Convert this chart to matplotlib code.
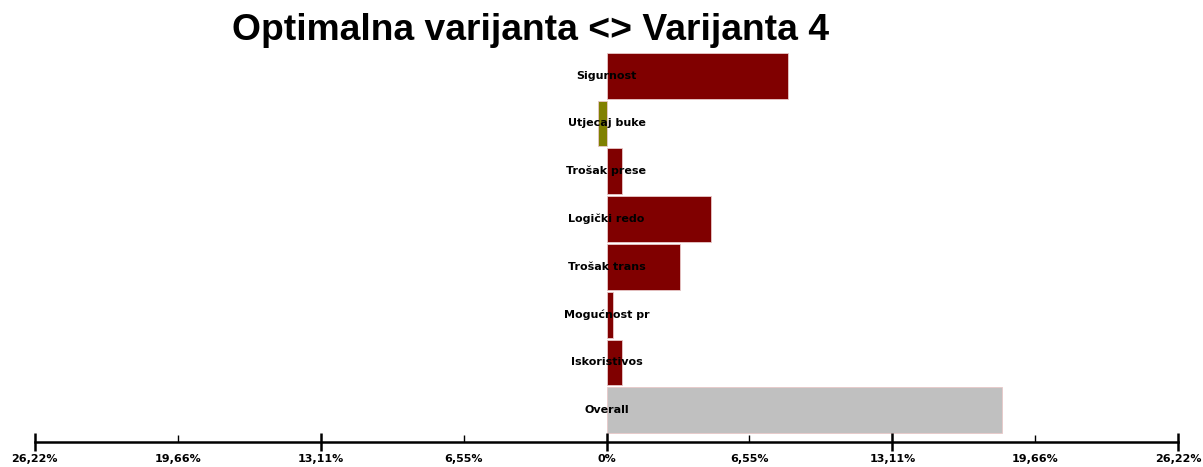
import matplotlib
matplotlib.use('Agg')
import matplotlib.pyplot as plt

# criteria, top to bottom, and their contribution (%)
categories = ['Sigurnost', 'Utjecaj buke', 'Trošak prese', 'Logički redo',
              'Trošak trans', 'Mogućnost pr', 'Iskoristivos', 'Overall']
values = [8.32, -0.40, 0.69, 4.77, 3.39, 0.31, 0.73, 18.13]

major_ticks = [-26.22, -13.11, 0, 13.11, 26.22]
minor_ticks = [-19.66, -6.55, 6.55, 19.66]
xmax = 26.22

title = 'Optimalna varijanta <> Varijanta 4'

W, H = 1203, 467
fig = plt.figure(figsize=(W / 100, H / 100), dpi=100)

# axes placed in pixel terms: x from 34.7 to 1178.3, y from 52.7 (top) to 442 (axis line)
left_px, right_px = 34.7, 1178.3
top_px, bot_px = 52.7, 442.0
ax = fig.add_axes([left_px / W, (H - bot_px) / H,
                   (right_px - left_px) / W, (bot_px - top_px) / H])

n = len(categories)
slot = 47.8  # pixels per bar slot
ypos = [n - 1 - i for i in range(n)]
colors = []
for c, v in zip(categories, values):
    if c == 'Overall':
        colors.append('#c0c0c0')
    elif v < 0:
        colors.append('#808000')
    else:
        colors.append('#800000')

ax.barh(ypos, values, height=0.96, color=colors, edgecolor='#e8c8c8',
        linewidth=0.6)

for y, c in zip(ypos, categories):
    ax.text(0, y, c, ha='center', va='center', fontsize=8,
            fontweight='bold', color='black')

ax.set_xlim(-xmax, xmax)
top_data = (n - 1) + 0.48
span = (bot_px - top_px) / slot
ax.set_ylim(top_data - span, top_data)

for s in ['top', 'left', 'right']:
    ax.spines[s].set_visible(False)
ax.spines['bottom'].set_linewidth(1.8)
ax.set_yticks([])

ax.set_xticks(major_ticks)
ax.set_xticklabels([('%.2f' % abs(t)).replace('.', ',') + '%' if t != 0 else '0%'
                    for t in major_ticks])
ax.set_xticks(minor_ticks, minor=True)
ax.set_xticklabels([('%.2f' % abs(t)).replace('.', ',') + '%' for t in minor_ticks],
                   minor=True)
ax.tick_params(axis='x', which='major', direction='inout', length=13, width=1.8,
               pad=2, labelsize=8)
ax.tick_params(axis='x', which='minor', direction='in', length=5, width=1,
               pad=8.5, labelsize=8)
for lab in ax.get_xticklabels() + ax.get_xticklabels(minor=True):
    lab.set_fontweight('bold')

fig.text(531 / W, 1 - 31 / H, title, ha='center', va='center',
         fontsize=26.8, fontweight='bold', family='Liberation Sans')

fig.savefig('out.png', dpi=100)
